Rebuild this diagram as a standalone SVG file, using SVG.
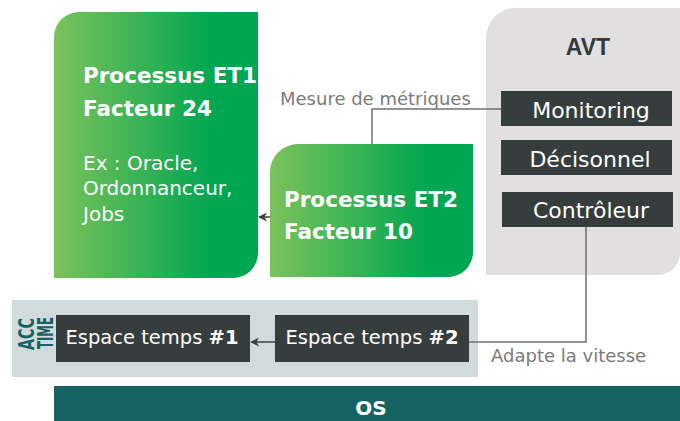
<svg xmlns="http://www.w3.org/2000/svg" width="680" height="421" viewBox="0 0 680 421">
<style>
.dark{fill:#363e3d}
.hd{font-family:"DejaVu Sans",sans-serif;font-weight:bold;fill:#ffffff;font-size:21.5px}
.reg{font-family:"DejaVu Sans",sans-serif;fill:#ffffff}
.lbl{font-family:"DejaVu Sans",sans-serif;fill:#7a7a7a;font-size:18px}
.conn{fill:none;stroke:#707070;stroke-width:1.5}
.arr{fill:none;stroke:#3a4141;stroke-width:1.5}
.teal{font-family:"DejaVu Sans",sans-serif;font-weight:bold;fill:#176262}
</style>
<defs>
<linearGradient id="g" x1="0" y1="0" x2="1" y2="0">
<stop offset="0" stop-color="#7bc25b"/>
<stop offset="0.78" stop-color="#00a651"/>
<stop offset="1" stop-color="#00a651"/>
</linearGradient>
<marker id="ah" viewBox="0 0 10 10" markerWidth="9" markerHeight="9" refX="9" refY="5" orient="auto" markerUnits="userSpaceOnUse">
<path d="M0,0 L10,5 L0,10 L3,5 Z" fill="#3a4141"/>
</marker>
</defs>
<rect width="680" height="421" fill="#ffffff"/>

<g id="avt">
<path d="M486,38 A30,30 0 0 1 516,8 L680,8 L680,253 A22,22 0 0 1 658,275 L486,275 Z" fill="#e1dfe0"/>
<text x="588" y="55" text-anchor="middle" style="font-family:'Liberation Sans',sans-serif;font-weight:bold;font-size:23px;fill:#333a39">AVT</text>
</g>
<g id="monitoring">
<rect class="dark" x="501" y="91" width="171" height="35"/>
<text class="reg" x="591" y="118" text-anchor="middle" font-size="22">Monitoring</text>
</g>
<g id="decisonnel">
<rect class="dark" x="501" y="140" width="171" height="35"/>
<text class="reg" x="590" y="167" text-anchor="middle" font-size="22">Décisonnel</text>
</g>
<g id="controleur">
<rect class="dark" x="502" y="192" width="171" height="35"/>
<text class="reg" x="591" y="218" text-anchor="middle" font-size="22">Contrôleur</text>
</g>

<g id="et1">
<path d="M54,37 A25,25 0 0 1 79,12 L258,12 L258,253 A25,25 0 0 1 233,278 L54,278 Z" fill="url(#g)"/>
<text class="hd" x="83" y="83">Processus ET1</text>
<text class="hd" x="83" y="116">Facteur 24</text>
<text class="reg" x="83" y="170" font-size="20">Ex : Oracle,</text>
<text class="reg" x="83" y="195" font-size="20">Ordonnanceur,</text>
<text class="reg" x="83" y="221" font-size="20">Jobs</text>
</g>

<g id="et2">
<path d="M270,172 A28,28 0 0 1 298,144 L473,144 L473,252 A25,25 0 0 1 448,277 L270,277 Z" fill="url(#g)"/>
<text class="hd" x="284" y="207">Processus ET2</text>
<text class="hd" x="284" y="239">Facteur 10</text>
</g>

<g id="acctime">
<rect x="12" y="300" width="466" height="77" fill="#d2dbdb"/>
<text class="teal" font-size="22" textLength="32" lengthAdjust="spacingAndGlyphs" transform="translate(34,350) rotate(-90)">ACC</text>
<text class="teal" font-size="22" textLength="32" lengthAdjust="spacingAndGlyphs" transform="translate(53,349) rotate(-90)">TIME</text>
</g>
<g id="espace1">
<rect class="dark" x="56" y="315" width="194" height="47"/>
<text class="reg" x="152" y="344" text-anchor="middle" font-size="19.5">Espace temps <tspan font-weight="bold">#1</tspan></text>
</g>
<g id="espace2">
<rect class="dark" x="275" y="315" width="194" height="47"/>
<text class="reg" x="372" y="344" text-anchor="middle" font-size="19.5">Espace temps <tspan font-weight="bold">#2</tspan></text>
</g>

<g id="os">
<rect x="54" y="386" width="626" height="35" fill="#146262"/>
<text x="371" y="415" text-anchor="middle" style="font-family:'DejaVu Sans',sans-serif;font-weight:bold;font-size:20px;fill:#ffffff">OS</text>
</g>

<g id="connectors">
<path class="conn" d="M501,109 H372 V144"/>
<path class="conn" d="M586,227 V342 H469"/>
<path class="arr" d="M270,217 H259" marker-end="url(#ah)"/>
<path class="arr" d="M275,342 H251" marker-end="url(#ah)"/>
<text class="lbl" x="280" y="105">Mesure de métriques</text>
<text class="lbl" x="491" y="362">Adapte la vitesse</text>
</g>
</svg>
